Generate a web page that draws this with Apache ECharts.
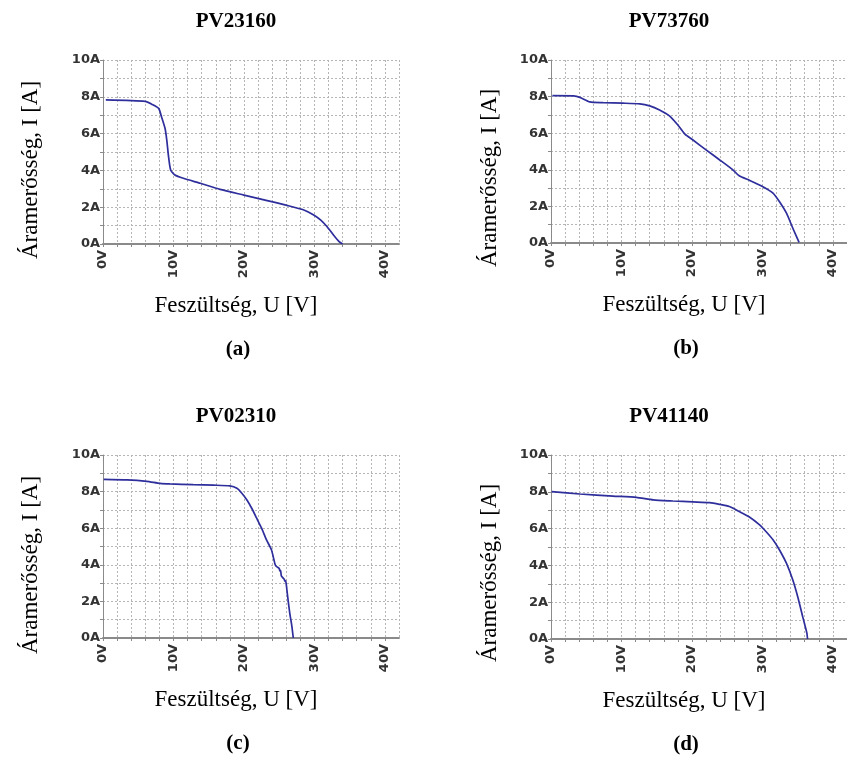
<!DOCTYPE html>
<html>
<head>
<meta charset="utf-8">
<script src="https://cdn.jsdelivr.net/npm/echarts@6/dist/echarts.min.js"></script>
<style>
  html, body { margin: 0; padding: 0; background: #fff; }
  #main { width: 847px; height: 760px; }
</style>
</head>
<body>
<div id="main"></div>
<script>
// panel titles and captions
var panelTitles = ['PV23160', 'PV73760', 'PV02310', 'PV41140'];
var captions = ['(a)', '(b)', '(c)', '(d)'];

// PV23160 (a)
var voltsA = [0.4, 6.0, 6.9, 7.9, 8.3, 8.8, 9.05, 9.3, 9.6, 10.2, 11.4, 13.8, 16.6, 20.0, 23.3, 26.1, 28.5, 29.9, 30.9, 31.8, 32.7, 33.5, 34.0];
var ampsA  = [7.83, 7.75, 7.6, 7.37, 6.92, 6.29, 5.65, 4.75, 4.02, 3.75, 3.57, 3.30, 2.97, 2.66, 2.36, 2.10, 1.85, 1.58, 1.30, 0.94, 0.49, 0.13, 0];

// PV73760 (b)
var voltsB = [0.2, 3.2, 4.1, 5.5, 7.4, 10.2, 12.6, 14.0, 15.4, 16.8, 18.0, 19.0, 20.1, 22.0, 23.9, 25.8, 26.7, 28.2, 30.0, 31.5, 32.4, 33.4, 34.3, 35.2];
var ampsB  = [8.05, 8.04, 7.96, 7.71, 7.67, 7.64, 7.6, 7.49, 7.27, 6.95, 6.45, 5.95, 5.64, 5.09, 4.55, 4.0, 3.67, 3.42, 3.09, 2.73, 2.27, 1.64, 0.82, 0.03];

// PV02310 (c)
var voltsC = [0.1, 3.4, 6.2, 8.1, 9.5, 12.8, 15.7, 18.0, 19.0, 19.7, 20.4, 21.1, 21.8, 22.5, 23.2, 23.9, 24.4, 24.6, 24.8, 25.0, 25.1, 25.2, 25.3, 25.5, 25.7, 25.8, 25.9, 26.0, 26.2, 26.5, 26.8, 27.0];
var ampsC  = [8.67, 8.64, 8.56, 8.45, 8.42, 8.38, 8.35, 8.31, 8.18, 7.91, 7.55, 7.09, 6.55, 6.0, 5.36, 4.82, 4.05, 3.91, 3.86, 3.80, 3.66, 3.70, 3.40, 3.30, 3.22, 3.10, 3.14, 2.95, 2.27, 1.36, 0.64, 0];

// PV41140 (d)
var voltsD = [0.1, 4.1, 8.8, 12.1, 14.5, 17.3, 20.1, 22.5, 23.9, 25.3, 26.7, 28.2, 29.6, 30.5, 31.5, 32.4, 33.4, 34.3, 35.0, 35.7, 36.3, 36.4];
var ampsD  = [8.01, 7.88, 7.77, 7.70, 7.56, 7.50, 7.45, 7.41, 7.32, 7.20, 6.93, 6.62, 6.20, 5.84, 5.39, 4.85, 4.12, 3.22, 2.31, 1.23, 0.33, 0];

var xName = 'Feszültség, U [V]';
var yName = 'Áramerősség, I [A]';

var allVolts = [voltsA, voltsB, voltsC, voltsD];
var allAmps = [ampsA, ampsB, ampsC, ampsD];

// plot boxes
var boxes = [
    {left: 103, top: 60, width: 296, height: 184},
    {left: 551, top: 60, width: 296, height: 183},
    {left: 103, top: 455, width: 296, height: 183},
    {left: 551, top: 455, width: 296, height: 184}
];
var titlePos = [[236, 22], [669, 22], [236, 417], [669, 417]];
var yNamePos = [[31, 170], [490, 178], [31, 565], [490, 573]];

var serif = '"Liberation Serif", "Times New Roman", serif';
var sans = '"DejaVu Sans", Verdana, sans-serif';
var gridLine = {show: true, lineStyle: {color: '#b5b5b5', type: [2, 2], width: 1}};

var grids = [], xAxes = [], yAxes = [], series = [], graphics = [];
for (var i = 0; i < 4; i++) {
    grids.push(boxes[i]);
    xAxes.push({
        type: 'value', gridIndex: i, min: 0, max: 42, interval: 2,
        axisLine: {show: true, onZero: false, lineStyle: {color: '#8a8a8a', width: 2}},
        axisTick: {show: true, length: 3, lineStyle: {color: '#8a8a8a'}},
        axisLabel: {
            rotate: 90, margin: 6, color: '#333', fontFamily: sans, fontWeight: 'bold', fontSize: 13,
            showMaxLabel: false,
            formatter: function (v) { return v % 10 === 0 ? v + 'V' : ''; }
        },
        splitLine: gridLine
    });
    yAxes.push({
        type: 'value', gridIndex: i, min: 0, max: 10, interval: 1,
        axisLine: {show: true, lineStyle: {color: '#8a8a8a', width: 1}},
        axisTick: {show: true, length: 3, lineStyle: {color: '#8a8a8a'}},
        axisLabel: {
            margin: 3, color: '#333', fontFamily: sans, fontWeight: 'bold', fontSize: 13,
            formatter: function (v) { return v % 2 === 0 ? v + 'A' : ''; }
        },
        splitLine: gridLine
    });
    var pts = allVolts[i].map(function (u, k) { return [u, allAmps[i][k]]; });
    series.push({
        type: 'line', xAxisIndex: i, yAxisIndex: i, data: pts,
        showSymbol: false, smooth: 0.2,
        lineStyle: {color: '#2e2e9c', width: 1.7}
    });
    var b = boxes[i];
    var cx = b.left + 133;
    var base = b.top + b.height;
    graphics.push(
        {type: 'text', x: titlePos[i][0], y: titlePos[i][1],
         style: {text: panelTitles[i], font: 'bold 21px ' + serif, fill: '#000', textAlign: 'center', textVerticalAlign: 'middle'}},
        {type: 'text', x: yNamePos[i][0], y: yNamePos[i][1], rotation: Math.PI / 2,
         style: {text: yName, font: '23px ' + serif, fill: '#000', textAlign: 'center', textVerticalAlign: 'middle'}},
        {type: 'text', x: cx, y: base + 62,
         style: {text: xName, font: '23px ' + serif, fill: '#000', textAlign: 'center', textVerticalAlign: 'middle'}},
        {type: 'text', x: cx + 2, y: base + 106,
         style: {text: captions[i], font: 'bold 21px ' + serif, fill: '#000', textAlign: 'center', textVerticalAlign: 'middle'}}
    );
}

var myChart = echarts.init(document.getElementById('main'));
var option = {
    animation: false,
    backgroundColor: '#fff',
    grid: grids,
    xAxis: xAxes,
    yAxis: yAxes,
    series: series,
    graphic: graphics
};
myChart.setOption(option);
</script>
</body>
</html>
